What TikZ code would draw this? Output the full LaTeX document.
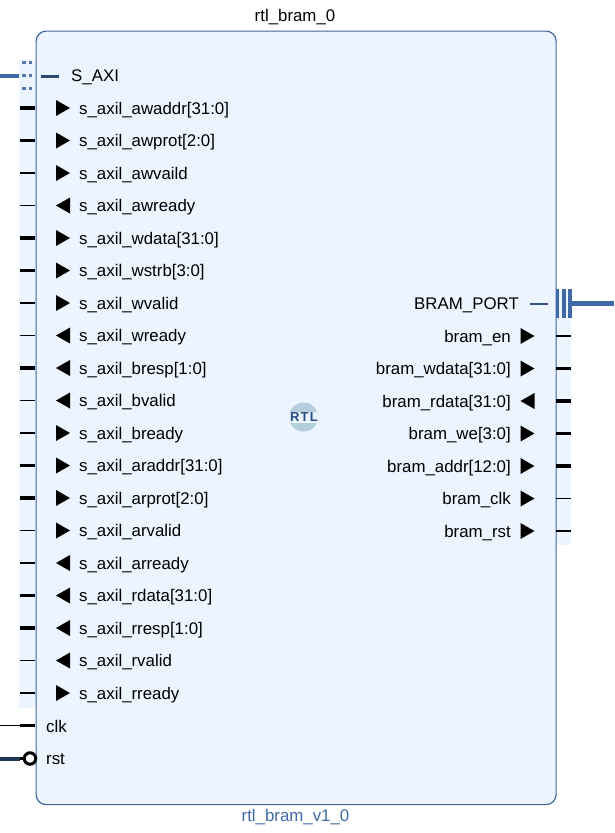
\documentclass[tikz,border=0pt]{standalone}
\usepackage{fontspec}
\setmainfont{Liberation Sans}
\definecolor{blockfill}{HTML}{EBF4FF}
\definecolor{blockline}{HTML}{3F66A0}
\definecolor{axiblue}{HTML}{4169A5}
\definecolor{darkpin}{HTML}{1F3554}
\definecolor{logotop}{HTML}{B5CEDB}
\definecolor{logotext}{HTML}{274A7C}
\tikzset{
  x=1pt,y=-1pt,
  blockbox/.style={draw=blockline,fill=blockfill,line width=1.2pt,rounded corners=10pt},
  band/.style={fill=blockfill,draw=none},
  lbl/.style={font=\fontsize{16.85}{20}\selectfont,text=black,inner sep=0pt},
  lleft/.style={lbl,anchor=west},
  lright/.style={lbl,anchor=east},
  title/.style={font=\fontsize{16.85}{20}\selectfont,inner sep=0pt},
  thin pin/.style={draw=black,line width=1.6pt},
  bus pin/.style={draw=black,line width=3.6pt},
  tri/.style={fill=black,draw=none},
}
\newcommand{\triR}[2]{\fill[tri] (#1,#2-8) -- (#1+14,#2) -- (#1,#2+8) -- cycle;}
\newcommand{\triL}[2]{\fill[tri] (#1+14,#2-8) -- (#1,#2) -- (#1+14,#2+8) -- cycle;}
\begin{document}
\begin{tikzpicture}
\useasboundingbox (0,0) rectangle (614,833);
% pale pin bands
\fill[band] (19,60) rectangle (36,708);
\fill[band] (555,290) rectangle (571,545);
% block
\node[blockbox,minimum width=520pt,minimum height=773.5pt,inner sep=0pt,anchor=north west] (block) at (35.5,30.5) {};
\node[title] (top) at (295,17) {rtl\_bram\_0};
\node[title,text=axiblue] (bottom) at (295.5,817) {rtl\_bram\_v1\_0};
% S_AXI interface
\node[lleft] (saxi) at (71,77.5) {S\_AXI};
\coordinate (saxiL) at (0,76);
\coordinate (saxiR) at (19,76);
\coordinate (saxiA) at (41,76.5);
\coordinate (saxiB) at (59,76.5);
\draw[axiblue,line width=3.8pt] (saxiL) -- (saxiR);
\draw[darkpin!60!axiblue,line width=2.6pt] (saxiA) -- (saxiB);
\foreach \py in {62.5,75.5,88.5}{
  \fill[axiblue!90!white] (22,\py-1.7) rectangle (25.5,\py+1.7);
  \fill[axiblue!90!white] (28.5,\py-1.7) rectangle (32,\py+1.7);
}
% left pins: name / row / direction / width
\foreach \nm/\txt/\dir/\w [count=\i from 0] in {
 a/s\_axil\_awaddr[31:0]/R/bus pin,
 b/s\_axil\_awprot[2:0]/R/bus pin,
 c/s\_axil\_awvaild/R/thin pin,
 d/s\_axil\_awready/L/thin pin,
 e/s\_axil\_wdata[31:0]/R/bus pin,
 f/s\_axil\_wstrb[3:0]/R/bus pin,
 g/s\_axil\_wvalid/R/thin pin,
 h/s\_axil\_wready/L/thin pin,
 j/s\_axil\_bresp[1:0]/L/bus pin,
 k/s\_axil\_bvalid/L/thin pin,
 l/s\_axil\_bready/R/thin pin,
 m/s\_axil\_araddr[31:0]/R/bus pin,
 n/s\_axil\_arprot[2:0]/R/bus pin,
 o/s\_axil\_arvalid/R/thin pin,
 p/s\_axil\_arready/L/thin pin,
 q/s\_axil\_rdata[31:0]/L/bus pin,
 r/s\_axil\_rresp[1:0]/L/bus pin,
 s/s\_axil\_rvalid/L/thin pin,
 t/s\_axil\_rready/R/thin pin}{
  \pgfmathsetmacro{\yy}{108+32.5*\i}
  \node[lleft,anchor=base west] (L\nm) at (79,\yy+6) {\txt};
  \coordinate (La\nm) at (20,\yy);
  \coordinate (Lb\nm) at (35,\yy);
  \draw[\w] (La\nm) -- (Lb\nm);
  \csname tri\dir\endcsname{56}{\yy}
}
% clk and rst
\node[lleft,anchor=base west] (clk) at (46,732) {clk};
\node[lleft,anchor=base west] (rst) at (46,764) {rst};
\coordinate (clkA) at (0,725.5);
\coordinate (clkB) at (20,725.5);
\coordinate (clkC) at (35,725.5);
\draw[black,line width=1.2pt] (clkA) -- (clkB);
\draw[bus pin] (clkB) -- (clkC);
\coordinate (rstA) at (0,758.5);
\coordinate (rstB) at (20,758.5);
\node[circle,draw=black,fill=white,line width=3pt,minimum size=11.5pt,inner sep=0pt] (rstC) at (30,758.5) {};
\draw[darkpin,line width=4pt] (rstA) -- (rstB);
\draw[bus pin] (rstB) -- (rstC);
% BRAM_PORT interface
\node[lright,anchor=base east] (bport) at (519,309) {BRAM\_PORT};
\coordinate (bpA) at (530,304);
\coordinate (bpB) at (548,304);
\coordinate (bpC) at (572,303.5);
\coordinate (bpD) at (614,303.5);
\draw[darkpin!40!axiblue,line width=2.6pt] (bpA) -- (bpB);
\draw[axiblue,line width=4.4pt] (bpC) -- (bpD);
\foreach \px in {557.5,564,570}{
  \fill[axiblue] (\px-1.6,289) rectangle (\px+1.6,318);
}
% right pins
\foreach \nm/\txt/\dir/\w [count=\i from 0] in {
 a/bram\_en/R/thin pin,
 b/bram\_wdata[31:0]/R/bus pin,
 c/bram\_rdata[31:0]/L/bus pin,
 d/bram\_we[3:0]/R/bus pin,
 e/bram\_addr[12:0]/R/bus pin,
 f/bram\_clk/R/thin pin,
 g/bram\_rst/R/thin pin}{
  \pgfmathsetmacro{\yy}{336+32.5*\i}
  \node[lright,anchor=base east] (R\nm) at (511,\yy+6) {\txt};
  \coordinate (Ra\nm) at (556,\yy);
  \coordinate (Rb\nm) at (571,\yy);
  \draw[\w] (Ra\nm) -- (Rb\nm);
  \csname tri\dir\endcsname{520.5}{\yy}
}
% RTL logo
\begin{scope}
  \clip (303.5,417) circle (14.5);
  \fill[logotop] (289,402) rectangle (318,432);
  \fill[blockfill] (289,411.5) rectangle (318,422.5);
\end{scope}
\node[font=\bfseries\fontsize{13}{14}\selectfont\addfontfeatures{LetterSpace=10},text=logotext,inner sep=0pt] (logo) at (304,417) {RTL};
\end{tikzpicture}
\end{document}
